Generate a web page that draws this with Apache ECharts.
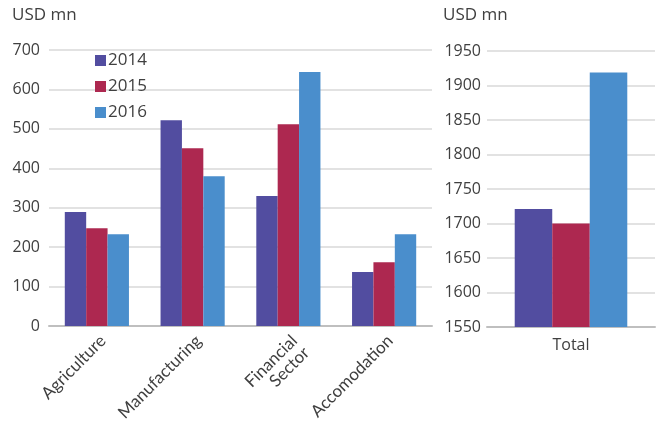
<!DOCTYPE html>
<html><head><meta charset="utf-8">
<script src="https://cdn.jsdelivr.net/npm/echarts@6/dist/echarts.min.js"></script>
<style>html,body{margin:0;padding:0;background:#fff}#c{width:659px;height:421px}</style>
</head><body><div id="c"></div>
<script>
const categories = ['Agriculture', 'Manufacturing', 'Financial\nSector', 'Accomodation'];
const years = ['2014', '2015', '2016'];
const v2014 = [289, 522, 330, 137];
const v2015 = [248, 451, 512, 162];
const v2016 = [233, 380, 644, 233];
const totalCategory = ['Total'];
const total2014 = [1721];
const total2015 = [1700];
const total2016 = [1919];
const leftTicks = {min: 0, max: 700, interval: 100};
const rightTicks = {min: 1550, max: 1950, interval: 50};

const colors = ['#524DA0', '#AD2850', '#4A8ECC'];
const font = '"Open Sans", "Noto Sans", sans-serif';
const labFont = 'Lato, "Open Sans", sans-serif';
const txt = '#404040';
const chart = echarts.init(document.getElementById('c'));
const leftVals = [v2014, v2015, v2016];
const rightVals = [total2014, total2015, total2016];
const series = [];
years.forEach((y, i) => {
  series.push({name: y, type: 'bar', xAxisIndex: 0, yAxisIndex: 0, data: leftVals[i],
    itemStyle: {color: colors[i]}, barGap: '0%', barCategoryGap: '33%', animation: false});
});
years.forEach((y, i) => {
  series.push({name: y, type: 'bar', xAxisIndex: 1, yAxisIndex: 1, data: rightVals[i],
    itemStyle: {color: colors[i]}, barGap: '0%', barCategoryGap: '33%', animation: false});
});
chart.setOption({
  animation: false,
  color: colors,
  textStyle: {fontFamily: font},
  graphic: [
    {type: 'text', left: 12, top: 7, style: {text: 'USD mn', font: '17px ' + font, fill: txt}},
    {type: 'text', left: 443, top: 7, style: {text: 'USD mn', font: '17px ' + font, fill: txt}}
  ],
  legend: {
    data: years, orient: 'vertical', left: 90, top: 47, itemWidth: 11, itemHeight: 11, itemGap: 9,
    icon: 'rect', textStyle: {fontSize: 17, color: txt, fontFamily: font, padding: [0, 0, 0, -3]}
  },
  grid: [
    {left: 49, right: 227, top: 50, bottom: 95, containLabel: false, outerBoundsMode: 'none'},
    {left: 487, right: 4, top: 51, bottom: 94, containLabel: false, outerBoundsMode: 'none'}
  ],
  xAxis: [
    {type: 'category', gridIndex: 0, data: categories,
      axisLine: {lineStyle: {color: '#BFBFBF', width: 2}}, axisTick: {show: false},
      axisLabel: {rotate: 45, fontSize: 17, color: txt, fontFamily: labFont, margin: 6, lineHeight: 17,
        interval: 0, align: 'right', verticalAlign: 'top'}},
    {type: 'category', gridIndex: 1, data: totalCategory,
      axisLine: {lineStyle: {color: '#BFBFBF', width: 2}}, axisTick: {show: false},
      axisLabel: {fontSize: 16, color: txt, fontFamily: font, margin: 10}}
  ],
  yAxis: [
    {type: 'value', gridIndex: 0, min: leftTicks.min, max: leftTicks.max, interval: leftTicks.interval,
      axisLine: {show: false}, axisTick: {show: false},
      splitLine: {lineStyle: {color: '#D9D9D9', width: 1.5}},
      axisLabel: {fontSize: 16, color: txt, fontFamily: font, margin: 9}},
    {type: 'value', gridIndex: 1, min: rightTicks.min, max: rightTicks.max, interval: rightTicks.interval,
      axisLine: {show: false}, axisTick: {show: false},
      splitLine: {lineStyle: {color: '#D9D9D9', width: 1.5}},
      axisLabel: {fontSize: 16, color: txt, fontFamily: font, margin: 6, formatter: v => String(v)}}
  ],
  series: series
});
</script></body></html>
